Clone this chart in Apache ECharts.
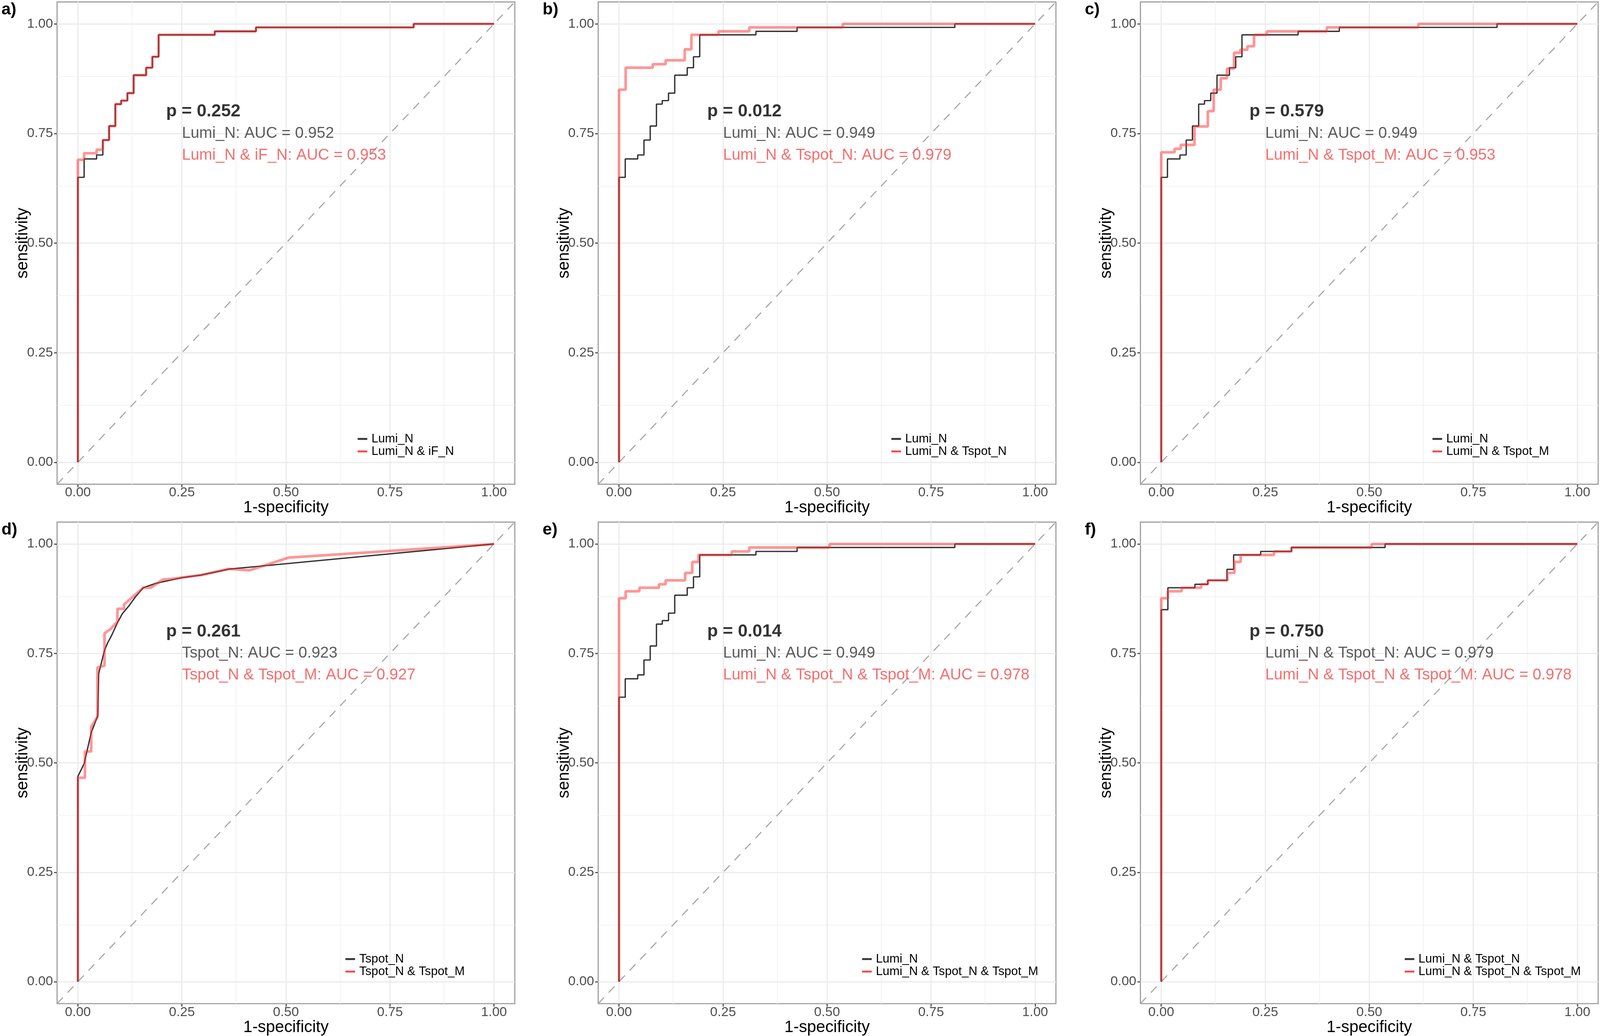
<!DOCTYPE html>
<html>
<head>
<meta charset="utf-8">
<script src="https://cdn.jsdelivr.net/npm/echarts@6/dist/echarts.min.js"></script>
<style>
html,body{margin:0;padding:0;background:#fff;overflow:hidden;}
#chart{width:100vw;height:100vh;}
</style>
</head>
<body>
<div id="chart"></div>
<script>
// ---------- data ----------
const majorTicks = [0, 0.25, 0.5, 0.75, 1];
const minorTicks = [0.125, 0.375, 0.625, 0.875];
const panelLabels = ['a)', 'b)', 'c)', 'd)', 'e)', 'f)'];

const lumiN = [[0,0],[0,0.650],[0.015,0.650],[0.015,0.692],[0.045,0.692],[0.045,0.701],[0.060,0.701],[0.060,0.735],[0.075,0.735],[0.075,0.767],[0.090,0.767],[0.090,0.817],[0.104,0.817],[0.104,0.825],[0.119,0.825],[0.119,0.842],[0.134,0.842],[0.134,0.883],[0.164,0.883],[0.164,0.900],[0.179,0.900],[0.179,0.925],[0.194,0.925],[0.194,0.975],[0.329,0.975],[0.329,0.983],[0.428,0.983],[0.428,0.992],[0.807,0.992],[0.807,1],[1,1]];
const lumiN_iFN = [[0,0],[0,0.690],[0.015,0.690],[0.015,0.705],[0.045,0.705],[0.045,0.713],[0.060,0.713],[0.060,0.735],[0.075,0.735],[0.075,0.767],[0.090,0.767],[0.090,0.817],[0.104,0.817],[0.104,0.825],[0.119,0.825],[0.119,0.842],[0.134,0.842],[0.134,0.883],[0.164,0.883],[0.164,0.900],[0.179,0.900],[0.179,0.925],[0.194,0.925],[0.194,0.975],[0.329,0.975],[0.329,0.983],[0.428,0.983],[0.428,0.992],[0.807,0.992],[0.807,1],[1,1]];
const lumiN_tspotN = [[0,0],[0,0.850],[0.016,0.850],[0.016,0.900],[0.081,0.900],[0.081,0.908],[0.112,0.908],[0.112,0.917],[0.158,0.917],[0.158,0.942],[0.174,0.942],[0.174,0.975],[0.239,0.975],[0.239,0.983],[0.313,0.983],[0.313,0.992],[0.538,0.992],[0.538,1],[1,1]];
const lumiN_tspotM = [[0,0],[0,0.707],[0.032,0.707],[0.032,0.715],[0.047,0.715],[0.047,0.724],[0.080,0.724],[0.080,0.766],[0.112,0.766],[0.112,0.801],[0.126,0.801],[0.126,0.850],[0.143,0.850],[0.143,0.876],[0.158,0.876],[0.158,0.898],[0.175,0.898],[0.175,0.934],[0.190,0.934],[0.190,0.941],[0.207,0.941],[0.207,0.949],[0.223,0.949],[0.223,0.975],[0.254,0.975],[0.254,0.983],[0.398,0.983],[0.398,0.992],[0.618,0.992],[0.618,1],[1,1]];
const tspotN = [[0,0],[0,0.469],[0.015,0.498],[0.032,0.569],[0.048,0.608],[0.050,0.704],[0.064,0.757],[0.072,0.775],[0.082,0.793],[0.095,0.820],[0.107,0.841],[0.123,0.859],[0.139,0.880],[0.157,0.900],[0.187,0.910],[0.250,0.923],[0.296,0.929],[0.366,0.943],[0.423,0.948],[1,1]];
const tspotN_tspotM = [[0,0],[0,0.466],[0.017,0.466],[0.017,0.526],[0.032,0.526],[0.032,0.583],[0.047,0.605],[0.047,0.718],[0.064,0.722],[0.064,0.796],[0.079,0.806],[0.095,0.823],[0.095,0.852],[0.111,0.852],[0.111,0.862],[0.157,0.900],[0.175,0.900],[0.205,0.919],[0.223,0.920],[0.296,0.929],[0.362,0.943],[0.413,0.940],[0.507,0.969],[0.558,0.972],[1,1]];
const lumiN_tspotN_tspotM = [[0,0],[0,0.876],[0.016,0.876],[0.016,0.892],[0.049,0.892],[0.049,0.900],[0.096,0.900],[0.096,0.908],[0.112,0.908],[0.112,0.917],[0.159,0.917],[0.159,0.934],[0.176,0.934],[0.176,0.959],[0.191,0.959],[0.191,0.975],[0.271,0.975],[0.271,0.983],[0.313,0.983],[0.313,0.992],[0.506,0.992],[0.506,1],[1,1]];

const blackNames = ['Lumi_N', 'Lumi_N', 'Lumi_N', 'Tspot_N', 'Lumi_N', 'Lumi_N & Tspot_N'];
const redNames = ['Lumi_N & iF_N', 'Lumi_N & Tspot_N', 'Lumi_N & Tspot_M', 'Tspot_N & Tspot_M', 'Lumi_N & Tspot_N & Tspot_M', 'Lumi_N & Tspot_N & Tspot_M'];
const blackCurves = [lumiN, lumiN, lumiN, tspotN, lumiN, lumiN_tspotN];
const redCurves = [lumiN_iFN, lumiN_tspotN, lumiN_tspotM, tspotN_tspotM, lumiN_tspotN_tspotM, lumiN_tspotN_tspotM];
const pTexts = ['p = 0.252', 'p = 0.012', 'p = 0.579', 'p = 0.261', 'p = 0.014', 'p = 0.750'];
const blackAUC = ['Lumi_N: AUC = 0.952', 'Lumi_N: AUC = 0.949', 'Lumi_N: AUC = 0.949', 'Tspot_N: AUC = 0.923', 'Lumi_N: AUC = 0.949', 'Lumi_N & Tspot_N: AUC = 0.979'];
const redAUC = ['Lumi_N & iF_N: AUC = 0.953', 'Lumi_N & Tspot_N: AUC = 0.979', 'Lumi_N & Tspot_M: AUC = 0.953', 'Tspot_N & Tspot_M: AUC = 0.927', 'Lumi_N & Tspot_N & Tspot_M: AUC = 0.978', 'Lumi_N & Tspot_N & Tspot_M: AUC = 0.978'];
const pPos = [0.212, 0.80];
const aucBlackPos = [0.25, 0.75];
const aucRedPos = [0.25, 0.70];
const diagonal = [[-0.05, -0.05], [1.05, 1.05]];

// ---------- layout (designed for 4317 x 2653, fitted to the viewport) ----------
const W0 = 4317, H0 = 2653;
const vw = window.innerWidth || W0, vh = window.innerHeight || H0;
const SX = vw / W0, SY = vh / H0, SF = Math.sqrt(SX * SY);
const sx = v => v * SX, sy = v => v * SY, sf = v => v * SF;

const FONT = '"Liberation Sans", Arial, Helvetica, sans-serif';
const panelLeft = [154, 1614, 3077, 154, 1614, 3077];
const panelTop = [5, 5, 5, 1337, 1337, 1337];
const panelSize = 1235;
const legendLeft = [965, 2405, 3865, 932, 2326, 3790];
const legendTop = [1108, 1108, 1108, 2440, 2440, 2440];

const BLACK = '#333333';
const RED_LINE = 'rgba(255,45,45,0.5)';
const RED_TEXT = '#F24A4A';

const grids = [], xAxes = [], yAxes = [], series = [], legends = [], graphics = [];

for (let i = 0; i < 6; i++) {
  grids.push({
    left: sx(panelLeft[i]), top: sy(panelTop[i]), width: sx(panelSize), height: sy(panelSize),
    show: true, borderColor: '#9E9E9E', borderWidth: sf(3), backgroundColor: '#fff',
    containLabel: false
  });
  const axisCommon = {
    type: 'value', gridIndex: i, min: -0.05, max: 1.05,
    axisLine: { show: false, onZero: false },
    axisTick: { show: true, customValues: majorTicks, length: sf(8), lineStyle: { color: '#555', width: sf(3) } },
    splitLine: { show: false },
    nameLocation: 'middle',
    nameTextStyle: { color: '#000', fontSize: sf(43), fontFamily: FONT }
  };
  const labelCommon = { customValues: majorTicks, formatter: v => v.toFixed(2), color: '#4D4D4D', fontSize: sf(35), fontFamily: FONT };
  xAxes.push(Object.assign({}, axisCommon, {
    name: '1-specificity', nameGap: sy(30), position: 'bottom',
    axisLabel: Object.assign({}, labelCommon, { margin: sy(5) })
  }));
  yAxes.push(Object.assign({}, axisCommon, {
    name: 'sensitivity', nameGap: sx(70), nameMoveOverlap: false, position: 'left',
    axisLabel: Object.assign({}, labelCommon, { margin: sx(11) })
  }));

  const gridLineData = [];
  minorTicks.forEach(v => {
    gridLineData.push({ xAxis: v, lineStyle: { color: '#F3F3F3', width: sf(2), type: 'solid' } });
    gridLineData.push({ yAxis: v, lineStyle: { color: '#F3F3F3', width: sf(2), type: 'solid' } });
  });
  majorTicks.forEach(v => {
    gridLineData.push({ xAxis: v, lineStyle: { color: '#EBEBEB', width: sf(3), type: 'solid' } });
    gridLineData.push({ yAxis: v, lineStyle: { color: '#EBEBEB', width: sf(3), type: 'solid' } });
  });
  series.push({
    type: 'line', name: 'diag' + i, xAxisIndex: i, yAxisIndex: i,
    data: diagonal, showSymbol: false, symbol: 'none', silent: true, z: 2,
    lineStyle: { color: '#A8A8A8', width: sf(3), type: [sf(22), sf(18)] },
    markLine: {
      silent: true, symbol: ['none', 'none'], z: 1, animation: false,
      label: { show: false }, emphasis: { disabled: true },
      data: gridLineData
    },
    animation: false
  });
  series.push({
    type: 'line', name: blackNames[i], xAxisIndex: i, yAxisIndex: i,
    data: blackCurves[i], showSymbol: false, symbol: 'none', silent: true, z: 3,
    lineStyle: { color: BLACK, width: sf(3.5) }, itemStyle: { color: BLACK }, animation: false
  });
  series.push({
    type: 'line', name: redNames[i], xAxisIndex: i, yAxisIndex: i,
    data: redCurves[i], showSymbol: false, symbol: 'none', silent: true, z: 4,
    lineStyle: { color: RED_LINE, width: sf(7) }, itemStyle: { color: RED_LINE }, animation: false
  });
  series.push({
    type: 'scatter', name: 'txt' + i, xAxisIndex: i, yAxisIndex: i,
    symbolSize: 0, silent: true, z: 5, animation: false,
    label: { show: true, position: 'right', distance: 0, formatter: '{b}', fontFamily: FONT },
    data: [
      { name: pTexts[i], value: pPos, label: { fontSize: sf(46), fontWeight: 'bold', color: '#000' } },
      { name: blackAUC[i], value: aucBlackPos, label: { fontSize: sf(41), color: '#333' } },
      { name: redAUC[i], value: aucRedPos, label: { fontSize: sf(41), color: RED_TEXT } }
    ]
  });
  legends.push({
    show: true, orient: 'vertical', left: sx(legendLeft[i]), top: sy(legendTop[i]),
    padding: 0, itemGap: 0, itemWidth: sx(26), itemHeight: sf(5), icon: 'rect',
    selectedMode: false,
    textStyle: { fontSize: sf(32), fontFamily: FONT, color: '#000', lineHeight: sy(32), padding: [0, 0, 0, sx(6)] },
    data: [
      { name: blackNames[i], icon: 'rect', itemStyle: { color: BLACK }, lineStyle: { color: BLACK } },
      { name: redNames[i], icon: 'rect', itemStyle: { color: '#F24A4A' }, lineStyle: { color: '#F24A4A' } }
    ]
  });
  graphics.push({
    type: 'text', left: sx(panelLeft[i] - 150), top: sy(panelTop[i] - 1), z: 10,
    style: { text: panelLabels[i], fontSize: sf(44), fontWeight: 'bold', fontFamily: FONT, fill: '#000' }
  });
}

const chart = echarts.init(document.getElementById('chart'), null, { renderer: 'canvas' });
chart.setOption({
  backgroundColor: '#ffffff',
  animation: false,
  grid: grids,
  xAxis: xAxes,
  yAxis: yAxes,
  legend: legends,
  series: series,
  graphic: graphics
});
</script>
</body>
</html>
